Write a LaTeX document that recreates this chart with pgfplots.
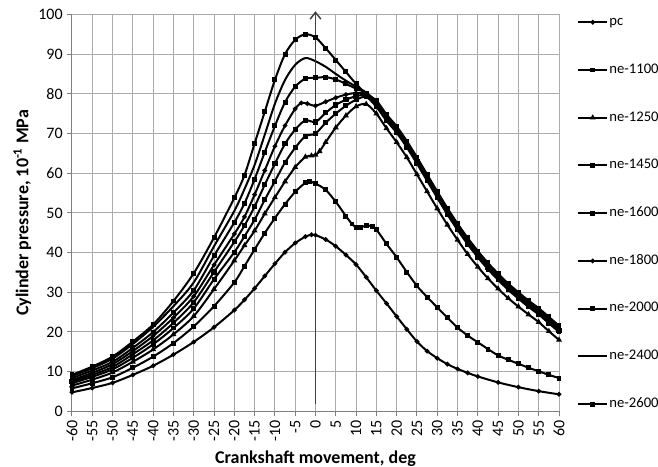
\documentclass[border=0pt]{standalone}
\usepackage{fontspec}
\setmainfont{Carlito}
\usepackage{pgfplots}
\pgfplotsset{compat=1.18}
\usetikzlibrary{arrows.meta}
\begin{document}
\begin{tikzpicture}
\path[use as bounding box] (-54pt,-41.7pt) rectangle (439.5pt,308.55pt);
\begin{axis}[
 scale only axis, width=365.25pt, height=297.75pt,
 xmin=-60, xmax=60, ymin=0, ymax=100,
 xtick={-60,-55,...,60}, ytick={0,10,...,100},
 grid=major, grid style={line width=0.75pt, color=black!33},
 axis lines*=left, axis line style={line width=0.75pt, color=black!50},
 tick align=outside, major tick length=3.5pt, tick style={line width=0.75pt, color=black!50},
 /pgf/number format/assume math mode=true,
 ticklabel style={font=\fontsize{12}{14}\selectfont},
 xticklabel style={rotate=90, anchor=east},
 xlabel={Crankshaft movement, deg},
 ylabel={Cylinder pressure, 10\textsuperscript{-1} MPa},
 label style={font=\bfseries\fontsize{13.5}{16}\selectfont},
 xlabel style={at={(axis description cs:0.5,-0.118)}, anchor=center},
 ylabel style={at={(axis description cs:-0.102,0.5)}, anchor=center},
 clip=false,
 legend style={at={(rel axis cs:1,1)}, anchor=north west, xshift=13.5pt, yshift=0.3pt,
   draw=none, fill=none, inner sep=0pt, row sep=23.8pt,
   font=\fontsize{11}{13}\selectfont,
   nodes={text height=7.5pt, text depth=2.5pt, inner sep=1pt}},
 legend cell align=left,
 legend image code/.code={\draw[mark repeat=2,mark phase=2,#1] plot coordinates {(0cm,0cm) (0.38cm,0cm) (0.76cm,0cm)};},
 every axis plot/.append style={black, line width=1.5pt, smooth, tension=0.5},
]
\addplot[mark=*, mark size=0.9pt] coordinates {(-60,4.8)(-55,5.9)(-50,7.2)(-45,9.2)(-40,11.5)(-35,14.3)(-30,17.5)(-25,21.2)(-20,25.5)(-17.5,28.1)(-15,31.0)(-12.5,34.1)(-10,37.2)(-7.5,40.1)(-5,42.4)(-2.5,44.0)(-1,44.5)(0,44.4)(2.5,43.3)(5,41.6)(7.5,39.4)(10,37.0)(12.5,33.8)(15,30.4)(17.5,27.2)(20,23.9)(22.5,20.7)(25,17.6)(27.5,15.2)(30,13.4)(32.5,11.9)(35,10.7)(37.5,9.7)(40,8.8)(45,7.3)(50,6.1)(55,5.1)(60,4.3)};
\addlegendentry{pc}
\addplot[mark=square*, mark size=1.1pt] coordinates {(-60,5.8)(-55,7.1)(-50,8.6)(-45,11.0)(-40,13.8)(-35,17.2)(-30,21.4)(-25,26.5)(-20,32.5)(-17.5,36.6)(-15,40.8)(-12.5,44.9)(-10,48.7)(-7.5,52.2)(-5,55.3)(-2.5,57.6)(-1.5,57.9)(0,57.4)(2.5,55.8)(5,52.8)(7.5,49.2)(9,47.2)(10,46.4)(11,46.3)(12.5,46.8)(14,46.6)(15,45.8)(17.5,42.2)(20,38.8)(22.5,35.1)(25,31.6)(27.5,28.8)(30,26.2)(32.5,23.6)(35,21.1)(37.5,19.1)(40,17.4)(42.5,15.7)(45,14.1)(47.5,13.0)(50,12.0)(52.5,11.0)(55,10.1)(57.5,9.2)(60,8.4)};
\addlegendentry{ne-1100}
\addplot[mark=triangle*, mark size=1.1pt] coordinates {(-60,6.5)(-55,8.0)(-50,9.8)(-45,12.5)(-40,15.6)(-35,19.4)(-30,24.0)(-25,30.8)(-20,38.0)(-17.5,41.8)(-15,45.5)(-12.5,49.8)(-10,53.9)(-7.5,57.9)(-5,61.5)(-2.5,64.1)(-1,64.4)(0,64.6)(1,65.5)(2.5,67.8)(5,71.5)(7.5,74.5)(10,76.8)(12.5,77.4)(15,75.0)(17.5,71.3)(20,67.8)(22.5,64.0)(25,59.7)(27.5,55.4)(30,51.1)(32.5,47.0)(35,43.2)(37.5,39.6)(40,36.4)(42.5,33.5)(45,30.9)(47.5,28.5)(50,26.4)(52.5,24.4)(55,22.5)(57.5,20.2)(60,18.0)};
\addlegendentry{ne-1250}
\addplot[mark=square*, mark size=1.1pt] coordinates {(-60,7.1)(-55,8.7)(-50,10.6)(-45,13.5)(-40,16.9)(-35,21.0)(-30,25.9)(-25,33.3)(-20,40.1)(-17.5,44.1)(-15,48.3)(-12.5,53.3)(-10,58.0)(-7.5,62.7)(-5,66.4)(-2.5,69.3)(0,70.0)(2.5,72.7)(5,75.0)(7.5,77.0)(10,78.5)(12.5,79.2)(15,76.7)(17.5,73.2)(20,70.2)(22.5,66.5)(25,62.4)(27.5,58.1)(30,53.8)(32.5,49.6)(35,45.7)(37.5,42.1)(40,38.8)(42.5,35.8)(45,33.1)(47.5,30.6)(50,28.4)(52.5,26.3)(55,24.4)(57.5,22.2)(60,20.0)};
\addlegendentry{ne-1450}
\addplot[mark=square*, mark size=1.2pt] coordinates {(-60,7.5)(-55,9.2)(-50,11.2)(-45,14.4)(-40,17.9)(-35,22.3)(-30,27.5)(-25,35.1)(-20,42.7)(-17.5,46.8)(-15,51.6)(-12.5,57.1)(-10,62.4)(-7.5,67.4)(-5,71.0)(-2.5,73.3)(0,72.9)(2.5,75.2)(5,77.2)(7.5,78.5)(10,79.4)(12.5,79.6)(15,77.1)(17.5,73.6)(20,70.6)(22.5,66.9)(25,62.8)(27.5,58.5)(30,54.2)(32.5,50.0)(35,46.1)(37.5,42.5)(40,39.2)(42.5,36.2)(45,33.5)(47.5,31.0)(50,28.8)(52.5,26.7)(55,24.8)(57.5,22.6)(60,20.4)};
\addlegendentry{ne-1600}
\addplot[mark=*, mark size=0.9pt] coordinates {(-60,7.9)(-55,9.7)(-50,11.9)(-45,15.2)(-40,19.0)(-35,23.6)(-30,29.0)(-25,36.9)(-20,44.7)(-17.5,49.0)(-15,54.6)(-12.5,60.7)(-10,66.8)(-7.5,72.0)(-5,76.2)(-3.5,77.7)(-2,77.5)(0,77.0)(2.5,78.0)(5,79.0)(7.5,79.8)(10,80.2)(12.5,79.9)(15,77.4)(17.5,73.9)(20,70.9)(22.5,67.2)(25,63.1)(27.5,58.8)(30,54.5)(32.5,50.3)(35,46.4)(37.5,42.8)(40,39.5)(42.5,36.5)(45,33.8)(47.5,31.3)(50,29.1)(52.5,27.0)(55,25.1)(57.5,22.9)(60,20.7)};
\addlegendentry{ne-1800}
\addplot[mark=square*, mark size=1.1pt] coordinates {(-60,8.4)(-55,10.3)(-50,12.5)(-45,16.0)(-40,20.0)(-35,24.9)(-30,30.5)(-25,39.2)(-20,47.6)(-17.5,52.4)(-15,58.5)(-12.5,65.3)(-10,71.9)(-7.5,77.9)(-5,81.8)(-2.5,83.8)(0,84.0)(2.5,84.2)(5,83.6)(7.5,82.5)(10,81.3)(12.5,80.2)(15,77.7)(17.5,74.2)(20,71.2)(22.5,67.5)(25,63.4)(27.5,59.1)(30,54.8)(32.5,50.6)(35,46.7)(37.5,43.1)(40,39.8)(42.5,36.8)(45,34.1)(47.5,31.6)(50,29.4)(52.5,27.3)(55,25.4)(57.5,23.2)(60,21.0)};
\addlegendentry{ne-2000}
\addplot[no marks] coordinates {(-60,8.9)(-55,10.9)(-50,13.3)(-45,17.0)(-40,21.3)(-35,26.5)(-30,32.5)(-25,41.6)(-20,50.5)(-17.5,56.0)(-15,62.1)(-12.5,69.7)(-10,77.5)(-7.5,83.5)(-5,87.3)(-2.5,89.0)(0,88.2)(2.5,86.8)(5,85.0)(7.5,83.3)(10,81.8)(12.5,80.3)(15,78.0)(17.5,74.5)(20,71.5)(22.5,67.8)(25,63.7)(27.5,59.4)(30,55.1)(32.5,50.9)(35,47.0)(37.5,43.4)(40,40.1)(42.5,37.1)(45,34.4)(47.5,31.9)(50,29.7)(52.5,27.6)(55,25.7)(57.5,23.5)(60,21.3)};
\addlegendentry{ne-2400}
\addplot[mark=square*, mark size=1.1pt] coordinates {(-60,9.2)(-55,11.3)(-50,13.8)(-45,17.6)(-40,21.9)(-35,27.8)(-30,34.8)(-25,43.8)(-20,53.8)(-17.5,59.5)(-15,67.5)(-12.5,75.5)(-10,83.5)(-7.5,90.0)(-5,93.6)(-2.5,95.0)(0,94.2)(2.5,91.5)(5,88.5)(7.5,85.5)(10,82.5)(12.5,80.0)(15,78.3)(17.5,74.8)(20,71.8)(22.5,68.1)(25,64.0)(27.5,59.7)(30,55.4)(32.5,51.2)(35,47.3)(37.5,43.7)(40,40.4)(42.5,37.4)(45,34.7)(47.5,32.2)(50,30.0)(52.5,27.9)(55,26.0)(57.5,23.8)(60,21.6)};
\addlegendentry{ne-2600}
\addplot[forget plot, no marks, sharp plot, black!75, line width=1.1pt, -{Straight Barb[length=5pt,width=8pt]}] coordinates {(0,1.8)(0,100.8)};
\end{axis}
\end{tikzpicture}
\end{document}
